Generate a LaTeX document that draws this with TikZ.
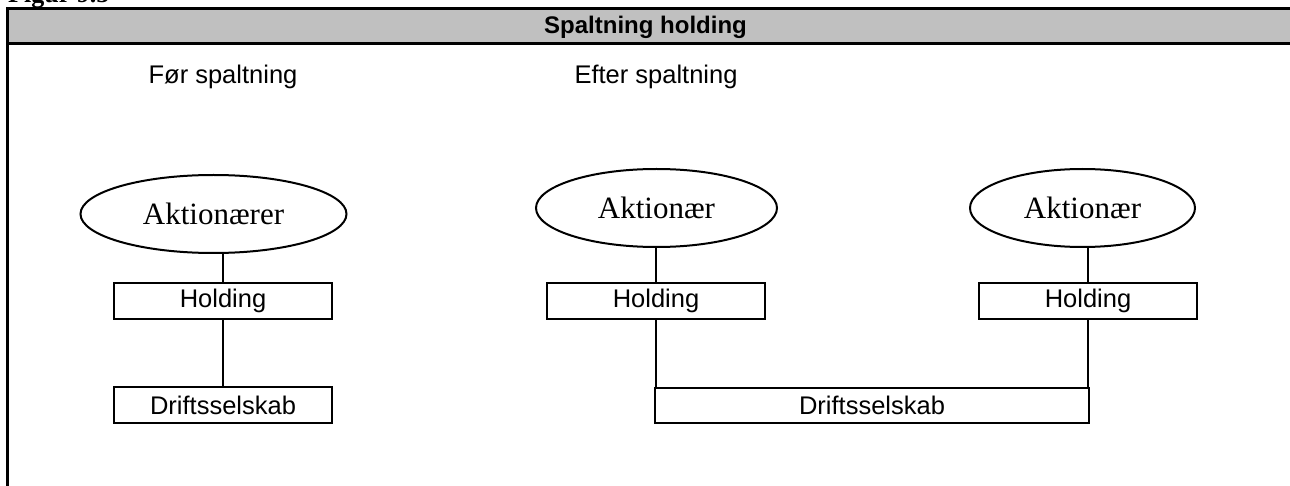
\documentclass[tikz,border=0pt]{standalone}
\usepackage{fontspec}
\setmainfont{Liberation Serif}
\setsansfont{Liberation Sans}
\usetikzlibrary{shapes.geometric}
\definecolor{headgray}{HTML}{C0C0C0}
\tikzset{
  owner/.style={draw, ellipse, line width=2pt, inner sep=0pt, minimum height=78pt,
    font=\fontsize{31}{36}\selectfont\rmfamily},
  company/.style={draw, rectangle, line width=2pt, inner sep=0pt, minimum height=36pt,
    font=\fontsize{25.5}{30}\selectfont\sffamily},
  caption/.style={anchor=base, inner sep=0pt, font=\fontsize{25.5}{30}\selectfont\sffamily},
  link/.style={line width=2pt},
  frame/.style={line width=3pt}
}
\begin{document}
\begin{tikzpicture}[x=1pt, y=-1pt]
\useasboundingbox (0,0) rectangle (1290,486);
\clip (0,0) rectangle (1290,486);

% figure number, mostly above the page edge
\node[anchor=base west, inner sep=0pt, font=\fontsize{26}{30}\selectfont\rmfamily\bfseries] (fignum) at (8,3) {Figur 9.5};

% header bar and left frame line
\draw[frame, fill=headgray] (7,9) rectangle (1300,44);
\draw[frame] (7,44) -- (7,495);
\node[anchor=base, inner sep=0pt, font=\fontsize{24}{28}\selectfont\sffamily\bfseries] (title) at (645.5,34) {Spaltning holding};

% column captions
\node[caption] (before) at (223,84) {Før spaltning};
\node[caption] (after) at (656,84) {Efter spaltning};

% before the split
\node[owner, minimum width=266pt] (own1) at (213.5,214) {Aktionærer};
\node[company, minimum width=218pt] (hold1) at (223,301) {Holding};
\node[company, minimum width=218pt] (drift1) at (223,405) {Driftsselskab};
\draw[link] (hold1.north) -- (hold1.north |- own1.south);
\draw[link] (hold1.south) -- (drift1.north);

% after the split
\node[owner, minimum width=241pt] (own2) at (656.5,208) {Aktionær};
\node[owner, minimum width=225pt] (own3) at (1082.5,208) {Aktionær};
\node[company, minimum width=218pt] (hold2) at (656,301) {Holding};
\node[company, minimum width=218pt] (hold3) at (1088,301) {Holding};
\node[company, minimum width=434pt, minimum height=35pt] (drift2) at (872,405.5) {Driftsselskab};
\draw[link] (hold2.north) -- (hold2.north |- own2.south);
\draw[link] (hold3.north) -- (hold3.north |- own3.south);
\draw[link] (hold2.south) -- (hold2.south |- drift2.north);
\draw[link] (hold3.south) -- (hold3.south |- drift2.north);
\end{tikzpicture}
\end{document}
